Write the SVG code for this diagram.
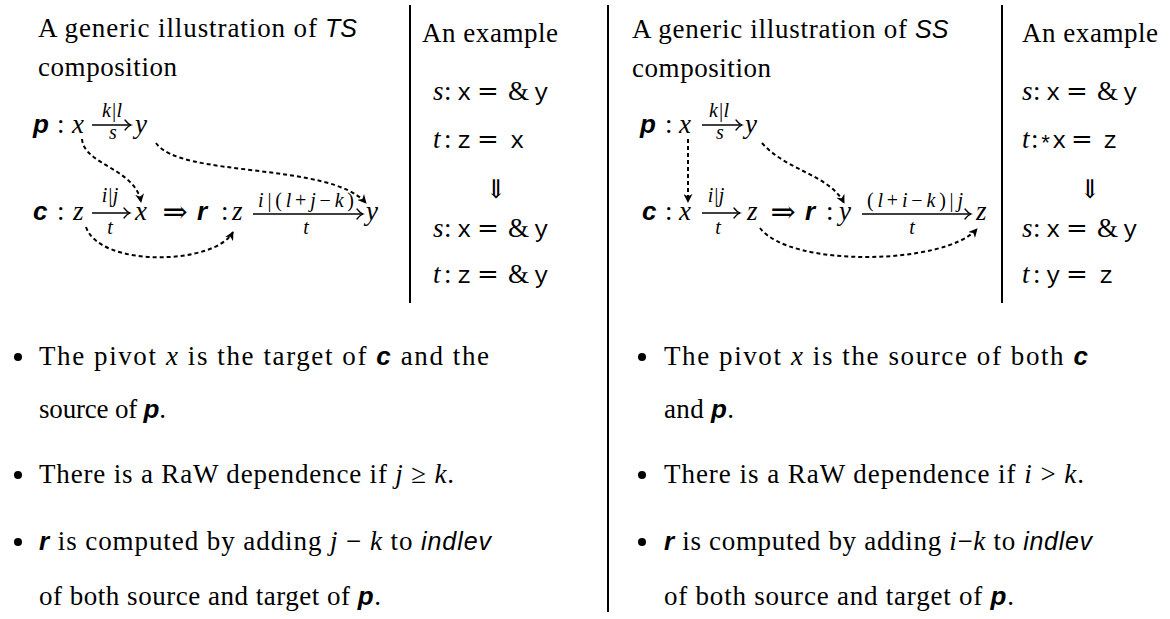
<svg xmlns="http://www.w3.org/2000/svg" width="1170" height="619" viewBox="0 0 1170 619">
<defs>
<style>
text{font-family:"Liberation Serif",serif;font-size:27px;fill:#000}
.mi{font-style:italic}
.sb{font-family:"Liberation Sans",sans-serif;font-weight:bold;font-style:italic;font-size:26px}
.si{font-family:"Liberation Sans",sans-serif;font-style:italic;font-size:25px}
.tt{font-family:"Liberation Mono",monospace;font-size:24px}
.sm{font-size:20px}
.sym{font-family:"DejaVu Serif",serif;font-size:26px}
.rule{stroke:#000;stroke-width:2}
.ar{fill:none;stroke:#000;stroke-width:1.3}
.dash{fill:none;stroke:#000;stroke-width:2;stroke-dasharray:4 3}
.hd{fill:none;stroke:#000;stroke-width:1.3;stroke-linecap:round}
</style>
<marker id="ah" viewBox="0 0 10 10" refX="9" refY="5" markerWidth="9" markerHeight="9" markerUnits="userSpaceOnUse" orient="auto">
<path d="M0,0 L10,5 L0,10 L3,5 Z" fill="#000"/>
</marker>
</defs>

<g id="rules">
<line class="rule" x1="410" y1="5" x2="410" y2="303"/>
<line class="rule" x1="608" y1="5" x2="608" y2="612"/>
<line class="rule" x1="1002" y1="5" x2="1002" y2="303"/>
</g>

<g id="left-title">
<text x="38" y="37" textLength="279">A generic illustration of</text>
<text class="si" x="325" y="37">TS</text>
<text x="38" y="76" textLength="139">composition</text>
</g>

<g id="left-p">
<text class="sb" x="33" y="133">p</text>
<text x="57" y="133">:</text>
<text class="mi" x="72" y="133">x</text>
<line class="ar" x1="92" y1="125" x2="131" y2="125"/>
<path class="hd" d="M125,120 Q128,124 131,125 Q128,126 125,130"/>
<text class="sm mi" x="112" y="117" text-anchor="middle">k|l</text>
<text class="sm mi" x="113" y="139" text-anchor="middle">s</text>
<text class="mi" x="135" y="133">y</text>
</g>

<g id="left-c">
<text class="sb" x="33" y="220">c</text>
<text x="57" y="220">:</text>
<text class="mi" x="73" y="220">z</text>
<line class="ar" x1="92" y1="213" x2="130" y2="213"/>
<path class="hd" d="M124,208 Q127,212 130,213 Q127,214 124,218"/>
<text class="sm mi" x="110" y="202" text-anchor="middle">i|j</text>
<text class="sm mi" x="110" y="234" text-anchor="middle">t</text>
<text class="mi" x="135" y="220">x</text>
</g>

<text class="sym" x="175" y="222" text-anchor="middle" style="font-size:30px">⇒</text>

<g id="left-r">
<text class="sb" x="197" y="220">r</text>
<text x="221" y="220">:</text>
<text class="mi" x="232" y="220">z</text>
<line class="ar" x1="253" y1="214" x2="363" y2="214"/>
<path class="hd" d="M357,209 Q360,213 363,214 Q360,215 357,219"/>
<text class="sm" x="306" y="207" text-anchor="middle" textLength="96"><tspan class="mi">i</tspan>|(<tspan class="mi">l</tspan>+<tspan class="mi">j</tspan>−<tspan class="mi">k</tspan>)</text>
<text class="sm mi" x="306" y="234" text-anchor="middle">t</text>
<text class="mi" x="366" y="220">y</text>
</g>

<g id="left-connectors">
<path class="dash" marker-end="url(#ah)" d="M82,139 C84,165 135,168 141,202"/>
<path class="dash" marker-end="url(#ah)" d="M156,143 C180,178 330,162 366,203"/>
<path class="dash" marker-end="url(#ah)" d="M86,227 C100,268 215,265 233,232"/>
</g>

<g id="left-example">
<text x="422" y="42" textLength="136">An example</text>
<text y="100"><tspan class="mi" x="433">s</tspan><tspan x="444">:</tspan><tspan class="tt" x="457">x</tspan><tspan class="sym" x="477">=</tspan><tspan x="508">&amp;</tspan><tspan class="tt" x="534">y</tspan></text>
<text y="148"><tspan class="mi" x="433">t</tspan><tspan x="444">:</tspan><tspan class="tt" x="457">z</tspan><tspan class="sym" x="477">=</tspan><tspan class="tt" x="510">x</tspan></text>
<text class="sym" x="496" y="198" text-anchor="middle">⇓</text>
<text y="237"><tspan class="mi" x="433">s</tspan><tspan x="444">:</tspan><tspan class="tt" x="457">x</tspan><tspan class="sym" x="477">=</tspan><tspan x="508">&amp;</tspan><tspan class="tt" x="534">y</tspan></text>
<text y="283"><tspan class="mi" x="433">t</tspan><tspan x="444">:</tspan><tspan class="tt" x="457">z</tspan><tspan class="sym" x="477">=</tspan><tspan x="508">&amp;</tspan><tspan class="tt" x="534">y</tspan></text>
</g>

<g id="right-title">
<text x="632" y="38" textLength="275">A generic illustration of</text>
<text class="si" x="915" y="38">SS</text>
<text x="632" y="77" textLength="139">composition</text>
</g>

<g id="right-p">
<text class="sb" x="640" y="133">p</text>
<text x="665" y="133">:</text>
<text class="mi" x="679" y="133">x</text>
<line class="ar" x1="702" y1="125" x2="742" y2="125"/>
<path class="hd" d="M736,120 Q739,124 742,125 Q739,126 736,130"/>
<text class="sm mi" x="719" y="117" text-anchor="middle">k|l</text>
<text class="sm mi" x="720" y="139" text-anchor="middle">s</text>
<text class="mi" x="745" y="133">y</text>
</g>

<g id="right-c">
<text class="sb" x="642" y="220">c</text>
<text x="665" y="220">:</text>
<text class="mi" x="679" y="220">x</text>
<line class="ar" x1="702" y1="213" x2="740" y2="213"/>
<path class="hd" d="M734,208 Q737,212 740,213 Q737,214 734,218"/>
<text class="sm mi" x="716" y="202" text-anchor="middle">i|j</text>
<text class="sm mi" x="718" y="234" text-anchor="middle">t</text>
<text class="mi" x="747" y="220">z</text>
</g>

<text class="sym" x="783" y="222" text-anchor="middle" style="font-size:30px">⇒</text>

<g id="right-r">
<text class="sb" x="805" y="220">r</text>
<text x="826" y="220">:</text>
<text class="mi" x="839" y="220">y</text>
<line class="ar" x1="862" y1="214" x2="971" y2="214"/>
<path class="hd" d="M965,209 Q968,213 971,214 Q968,215 965,219"/>
<text class="sm" x="915" y="207" text-anchor="middle" textLength="96">(<tspan class="mi">l</tspan>+<tspan class="mi">i</tspan>−<tspan class="mi">k</tspan>)|<tspan class="mi">j</tspan></text>
<text class="sm mi" x="912" y="234" text-anchor="middle">t</text>
<text class="mi" x="976" y="220">z</text>
</g>

<g id="right-connectors">
<path class="dash" marker-end="url(#ah)" d="M688,139 L688,202"/>
<path class="dash" marker-end="url(#ah)" d="M762,143 C785,170 830,175 844,203"/>
<path class="dash" marker-end="url(#ah)" d="M760,228 C790,268 945,265 977,229"/>
</g>

<g id="right-example">
<text x="1022" y="42" textLength="136">An example</text>
<text y="100"><tspan class="mi" x="1022">s</tspan><tspan x="1033">:</tspan><tspan class="tt" x="1046">x</tspan><tspan class="sym" x="1066">=</tspan><tspan x="1097">&amp;</tspan><tspan class="tt" x="1123">y</tspan></text>
<text y="148"><tspan class="mi" x="1022">t</tspan><tspan x="1031">:</tspan><tspan class="tt" x="1039" dy="3" style="font-size:22px">*</tspan><tspan class="tt" x="1052" dy="-3">x</tspan><tspan class="sym" x="1071">=</tspan><tspan class="tt" x="1103">z</tspan></text>
<text class="sym" x="1090" y="198" text-anchor="middle">⇓</text>
<text y="237"><tspan class="mi" x="1022">s</tspan><tspan x="1033">:</tspan><tspan class="tt" x="1046">x</tspan><tspan class="sym" x="1066">=</tspan><tspan x="1097">&amp;</tspan><tspan class="tt" x="1123">y</tspan></text>
<text y="283"><tspan class="mi" x="1022">t</tspan><tspan x="1033">:</tspan><tspan class="tt" x="1046">y</tspan><tspan class="sym" x="1066">=</tspan><tspan class="tt" x="1099">z</tspan></text>
</g>

<g id="left-bullets">
<circle cx="18" cy="357" r="4"/>
<text x="39" y="365" textLength="450">The pivot <tspan class="mi">x</tspan> is the target of <tspan class="sb">c</tspan> and the</text>
<text x="39" y="418" textLength="127">source of <tspan class="sb">p</tspan>.</text>
<circle cx="18" cy="475" r="4"/>
<text x="39" y="483" textLength="415">There is a RaW dependence if <tspan class="mi">j</tspan> ≥ <tspan class="mi">k</tspan>.</text>
<circle cx="18" cy="542" r="4"/>
<text x="39" y="550" textLength="452"><tspan class="sb">r</tspan> is computed by adding <tspan class="mi">j</tspan> − <tspan class="mi">k</tspan> to <tspan class="si">indlev</tspan></text>
<text x="39" y="605" textLength="342">of both source and target of <tspan class="sb">p</tspan>.</text>
</g>

<g id="right-bullets">
<circle cx="642" cy="357" r="4"/>
<text x="664" y="365" textLength="424">The pivot <tspan class="mi">x</tspan> is the source of both <tspan class="sb">c</tspan></text>
<text x="664" y="418" textLength="70">and <tspan class="sb">p</tspan>.</text>
<circle cx="642" cy="475" r="4"/>
<text x="664" y="483" textLength="420">There is a RaW dependence if <tspan class="mi">i</tspan> &gt; <tspan class="mi">k</tspan>.</text>
<circle cx="642" cy="542" r="4"/>
<text x="664" y="550" textLength="428"><tspan class="sb">r</tspan> is computed by adding <tspan class="mi">i</tspan>−<tspan class="mi">k</tspan> to <tspan class="si">indlev</tspan></text>
<text x="664" y="605" textLength="350">of both source and target of <tspan class="sb">p</tspan>.</text>
</g>
</svg>
